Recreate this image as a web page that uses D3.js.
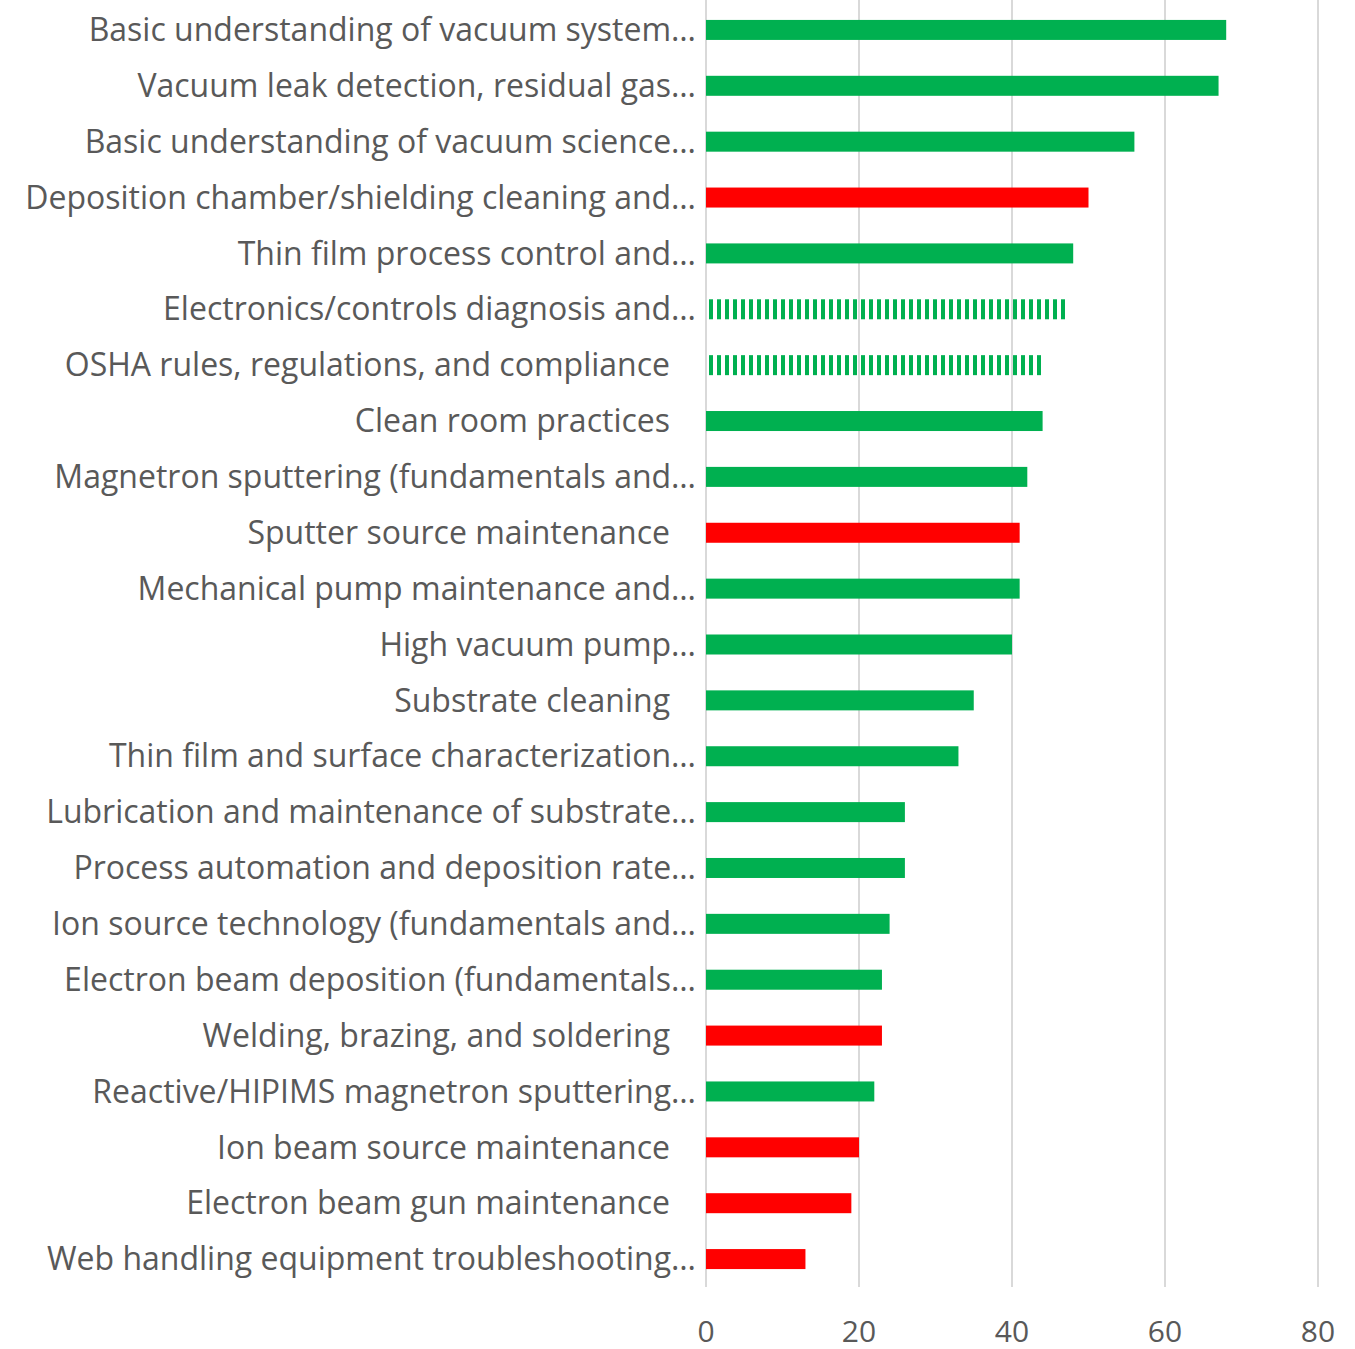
<!DOCTYPE html>
<html>
<head>
<meta charset="utf-8">
<script src="https://cdn.jsdelivr.net/npm/d3@7"></script>
<style>
  body { margin: 0; background: #fff; }
  text { font-family: "Open Sans", "Noto Sans", sans-serif; fill: #595959; }
</style>
</head>
<body>
<div id="chart"></div>
<script>
// Labels as shown on the axis (truncated ones keep their ellipsis)
const labels = [
  "Basic understanding of vacuum system…",
  "Vacuum leak detection, residual gas…",
  "Basic understanding of vacuum science…",
  "Deposition chamber/shielding cleaning and…",
  "Thin film process control and…",
  "Electronics/controls diagnosis and…",
  "OSHA rules, regulations, and compliance",
  "Clean room practices",
  "Magnetron sputtering (fundamentals and…",
  "Sputter source maintenance",
  "Mechanical pump maintenance and…",
  "High vacuum pump…",
  "Substrate cleaning",
  "Thin film and surface characterization…",
  "Lubrication and maintenance of substrate…",
  "Process automation and deposition rate…",
  "Ion source technology (fundamentals and…",
  "Electron beam deposition (fundamentals…",
  "Welding, brazing, and soldering",
  "Reactive/HIPIMS magnetron sputtering…",
  "Ion beam source maintenance",
  "Electron beam gun maintenance",
  "Web handling equipment troubleshooting…"
];
const values = [68, 67, 56, 50, 48, 47, 44, 44, 42, 41, 41, 40, 35, 33, 26, 26, 24, 23, 23, 22, 20, 19, 13];
// g = solid green, r = red, d = striped green
const kinds = ["g","g","g","r","g","d","d","g","g","r","g","g","g","g","g","g","g","g","r","g","r","r","r"];
const xTicks = [0, 20, 40, 60, 80];

const width = 1355, height = 1349;
const plotLeft = 706, plotRight = 1318, plotTop = 2, plotBottom = 1287;

const data = labels.map((l, i) => ({label: l, value: values[i], kind: kinds[i]}));

const x = d3.scaleLinear().domain([0, 80]).range([plotLeft, plotRight]);
const y = d3.scaleBand().domain(labels).range([plotTop, plotBottom])
    .paddingInner(0.642).paddingOuter(0.321);

const svg = d3.select("#chart").append("svg")
    .attr("width", width).attr("height", height);

const defs = svg.append("defs");
defs.append("pattern")
    .attr("id", "stripes")
    .attr("patternUnits", "userSpaceOnUse")
    .attr("x", plotLeft + 3).attr("y", 0)
    .attr("width", 8).attr("height", 8)
  .append("rect")
    .attr("width", 4).attr("height", 8)
    .attr("fill", "#00b050");

// gridlines
svg.append("g")
  .selectAll("line")
  .data(xTicks)
  .join("line")
    .attr("x1", d => x(d)).attr("x2", d => x(d))
    .attr("y1", 0).attr("y2", plotBottom)
    .attr("stroke", "#d9d9d9").attr("stroke-width", 2);

// tick labels
svg.append("g")
  .selectAll("text")
  .data(xTicks)
  .join("text")
    .attr("x", d => x(d)).attr("y", 1331)
    .attr("dy", "0.35em")
    .attr("text-anchor", "middle")
    .attr("font-size", 30)
    .text(d => d);

// bars
svg.append("g")
  .selectAll("rect")
  .data(data)
  .join("rect")
    .attr("x", d => d.kind === "d" ? x(0) + 3 : x(0))
    .attr("y", d => y(d.label))
    .attr("width", d => d.kind === "d" ? x(d.value) - x(0) - 3 : x(d.value) - x(0))
    .attr("height", y.bandwidth())
    .attr("fill", d => d.kind === "r" ? "#ff0000" : d.kind === "d" ? "url(#stripes)" : "#00b050");

// category labels
svg.append("g")
  .selectAll("text")
  .data(data)
  .join("text")
    .attr("x", d => d.label.endsWith("…") ? 696 : 670)
    .attr("y", d => y(d.label) + y.bandwidth() / 2)
    .attr("dy", "0.35em")
    .attr("text-anchor", "end")
    .attr("font-size", 32)
    .text(d => d.label);
</script>
</body>
</html>
